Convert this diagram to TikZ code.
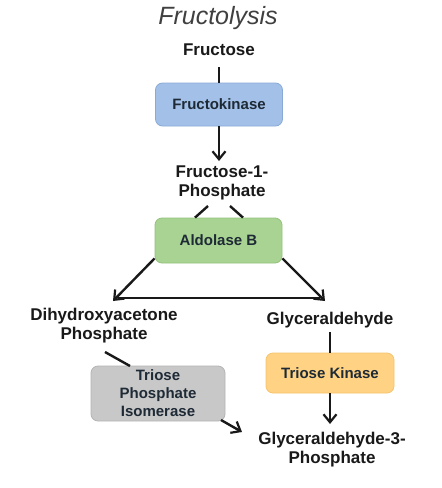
\documentclass[tikz,border=0pt]{standalone}
\usepackage{fontspec}
\setmainfont{Liberation Sans}
\usetikzlibrary{arrows.meta}
\definecolor{bluefill}{HTML}{A3C1E8}
\definecolor{blueedge}{HTML}{8AAAD6}
\definecolor{greenfill}{HTML}{A9D392}
\definecolor{greenedge}{HTML}{94C27C}
\definecolor{orangefill}{HTML}{FFD383}
\definecolor{orangeedge}{HTML}{F5C46E}
\definecolor{grayfill}{HTML}{C8C8C8}
\definecolor{grayedge}{HTML}{B4B4B4}
\definecolor{boxtext}{HTML}{1E2A36}
\begin{document}
\begin{tikzpicture}[x=1pt,y=-1pt,
  label/.style={font=\fontsize{17}{20}\selectfont\bfseries, text=black!90, align=center, inner sep=1pt},
  enzyme/.style={rounded corners=7pt, draw, line width=0.8pt, font=\fontsize{15}{18}\selectfont\bfseries, text=boxtext, align=center, inner sep=0pt},
  conn/.style={line width=2.4pt, black!90},
  arr/.style={conn, -{Straight Barb[length=8pt,width=13pt,line width=2.2pt]}}]
\useasboundingbox (0,0) rectangle (442,488);
\fill[white] (0,0) rectangle (442,488);
\node[font=\fontsize{25}{29}\selectfont\itshape, text=black!75] (title) at (218,18) {Fructolysis};
\node[label] (fru) at (219,50) {Fructose};
\node[enzyme, fill=bluefill, draw=blueedge, minimum width=127pt, minimum height=43pt] (fk) at (219,104.5) {Fructokinase};
\node[label] (f1p) at (222,183) {Fructose-1-\\[-1pt]Phosphate};
\node[enzyme, fill=greenfill, draw=greenedge, minimum width=127pt, minimum height=45pt] (ald) at (218.5,240.5) {Aldolase B};
\node[label] (dhap) at (104,326) {Dihydroxyacetone\\[-1pt]Phosphate};
\node[label] (gly) at (330,320) {Glyceraldehyde};
\node[enzyme, fill=orangefill, draw=orangeedge, minimum width=128pt, minimum height=40pt] (tk) at (330,373) {Triose Kinase};
\node[enzyme, fill=grayfill, draw=grayedge, minimum width=134pt, minimum height=55pt, font=\fontsize{15}{18}\selectfont\bfseries] (tpi) at (158,393.5) {Triose\\Phosphate\\Isomerase};
\node[label] (g3p) at (332,450) {Glyceraldehyde-3-\\[-1pt]Phosphate};
\coordinate (dl) at (113,301);
\coordinate (gr) at (325,301);
% connectors
\draw[conn] (fk.north |- 0,67) -- (fk.north);
\draw[arr] (fk.south) -- (fk.south |- 0,161);
\draw[conn] (208,206) -- (ald.north west -| 195,0);
\draw[conn] (230,206) -- (ald.north east -| 243,0);
\draw[arr] (ald.south west) ++(0,-5) -- (dl);
\draw[arr] (ald.south east) ++(0,-5) -- (gr);
\draw[conn, line width=1.8pt] (118,298) -- (320,298);
\draw[conn] (gly.south |- 0,332) -- (tk.north);
\draw[arr] (tk.south) -- (tk.south |- 0,424);
\draw[conn] (105,352) -- (130,366);
\draw[arr] (221,420) -- (242,432);
\end{tikzpicture}
\end{document}
